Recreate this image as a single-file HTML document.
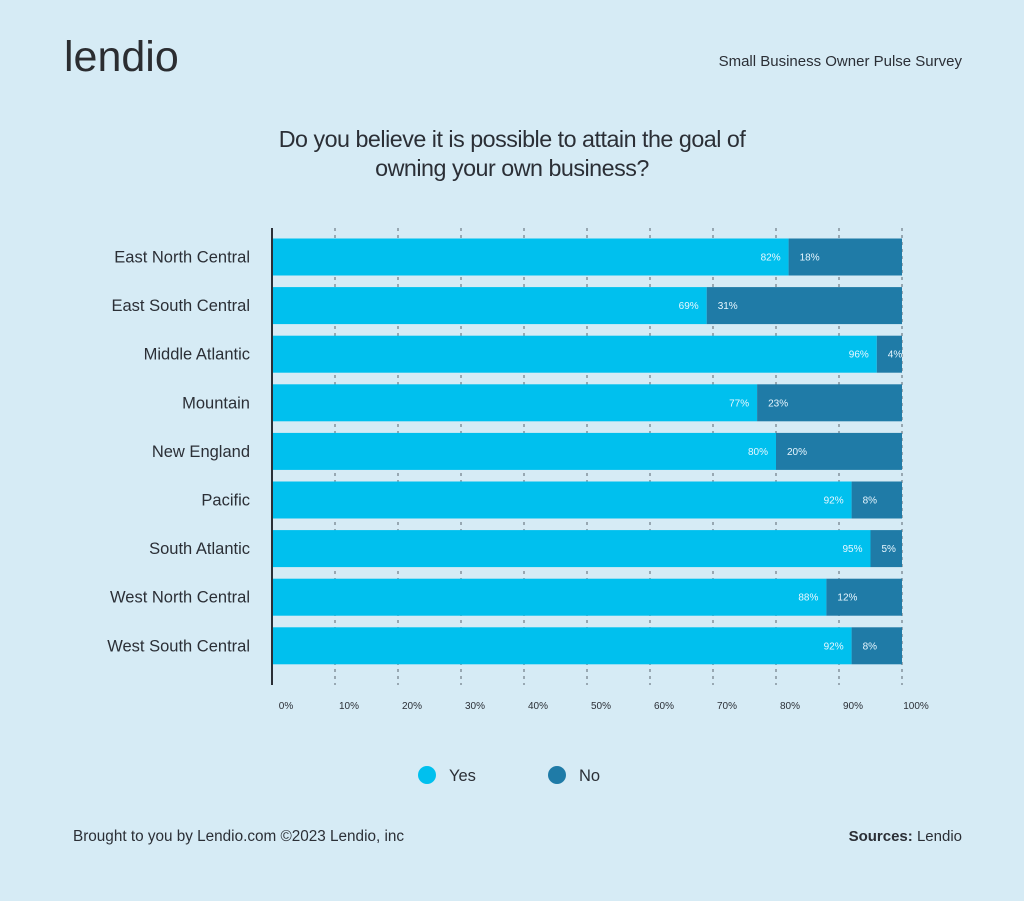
<!DOCTYPE html>
<html><head><meta charset="utf-8"><style>
body{margin:0;width:1024px;height:901px;background:#D6EBF5;font-family:"Liberation Sans",sans-serif;color:#2b2f36;overflow:hidden}
.t{position:absolute}
</style></head><body>
<div class="t" style="left:64px;top:33px;font-size:43px;color:#2b2d31">lendio</div>
<div class="t" style="right:62px;top:53px;font-size:15px;color:#2b2f36">Small Business Owner Pulse Survey</div>
<div class="t" style="left:212px;width:600px;top:125px;text-align:center;font-size:23.3px;line-height:29px;color:#2b2f36;letter-spacing:-0.5px">Do you believe it is possible to attain the goal of<br>owning your own business?</div>
<svg id="chart" class="t" style="left:0;top:0" width="1024" height="901"></svg>
<div class="t" style="left:73px;top:828px;font-size:15.3px">Brought to you by Lendio.com ©2023 Lendio, inc</div>
<div class="t" style="right:62px;top:828px;font-size:15px"><b>Sources:</b> Lendio</div>
<script>
const categories=["East North Central","East South Central","Middle Atlantic","Mountain","New England","Pacific","South Atlantic","West North Central","West South Central"];
const yesValues=[82,69,96,77,80,92,95,88,92];
const noValues=[18,31,4,23,20,8,5,12,8];
const tickLabels=[0,10,20,30,40,50,60,70,80,90,100];
const NS="http://www.w3.org/2000/svg",svg=document.getElementById('chart');
const x=v=>272+v*6.3, yC=i=>257+i*48.6, bh=37;
function mk(t,a,p){const e=document.createElementNS(NS,t);for(const k in a)e.setAttribute(k,a[k]);(p||svg).appendChild(e);return e;}
tickLabels.forEach(t=>{
 const g=mk('line',{x1:x(t),x2:x(t),y1:228,y2:685,stroke:'#5b6470','stroke-width':1,'stroke-dasharray':'3,4'});
 
 
 const l=mk('text',{x:x(t)+14,y:709,'text-anchor':'middle','font-size':10,fill:'#2b2f36'});
 l.textContent=t+'%';
 
 
});
categories.forEach((c,i)=>{
 const y0=yC(i)-bh/2;
 const a=mk('rect',{x:x(0),y:y0,width:x(yesValues[i])-x(0),height:bh,fill:'#00C0EE'});
 
 
 const b=mk('rect',{x:x(yesValues[i]),y:y0,width:x(yesValues[i]+noValues[i])-x(yesValues[i]),height:bh,fill:'#1F7BA7'});
 
 
 const t1=mk('text',{x:x(yesValues[i])-8,y:yC(i)+3.5,'text-anchor':'end','font-size':10,fill:'#e8f7ff'});
 t1.textContent=yesValues[i]+'%';
 
 
 const t2=mk('text',{x:x(yesValues[i])+11,y:yC(i)+3.5,'font-size':10,fill:'#e8f7ff'});
 t2.textContent=noValues[i]+'%';
 
 
 const lb=mk('text',{x:250,y:yC(i)+5.5,'text-anchor':'end','font-size':16.5,fill:'#2b2f36'});
 lb.textContent=c;
 
 
});
const ax=mk('line',{x1:272,x2:272,y1:228,y2:685,stroke:'#2b2f36','stroke-width':2});


[['Yes','#00C0EE',427],['No','#1F7BA7',557]].forEach(([n,c,cx])=>{
 const d=mk('circle',{cx:cx,cy:775,r:9,fill:c});
 
 
 const t=mk('text',{x:cx+22,y:781,'font-size':16.5,fill:'#2b2f36'});
 t.textContent=n;
 
 
});
</script>
</body></html>
